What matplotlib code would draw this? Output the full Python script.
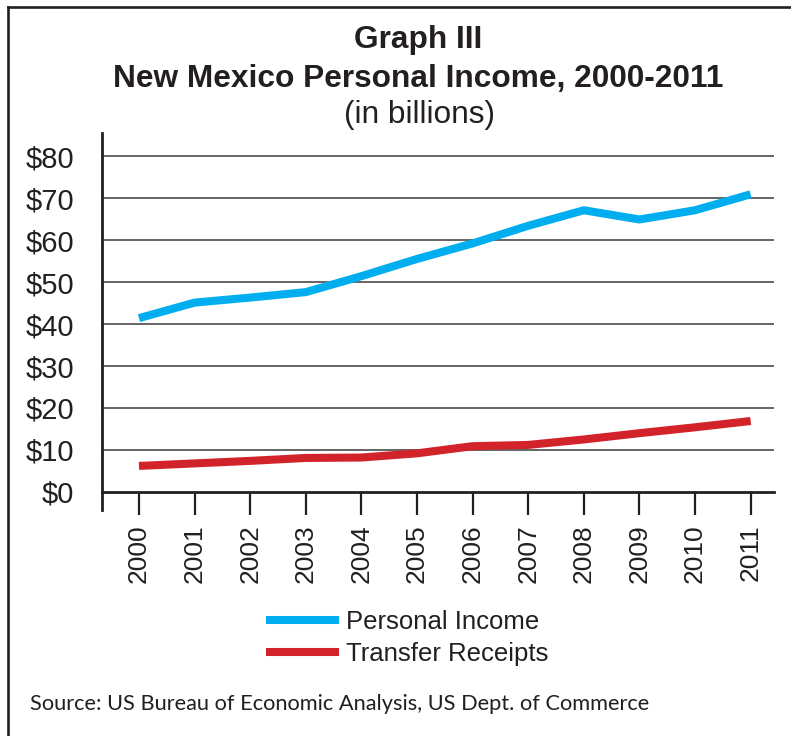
import matplotlib
matplotlib.use("Agg")
import matplotlib.pyplot as plt
from matplotlib.lines import Line2D

# New Mexico personal income vs transfer receipts, billions of dollars
years = ["2000", "2001", "2002", "2003", "2004", "2005",
         "2006", "2007", "2008", "2009", "2010", "2011"]
personal_income = [41.4, 45.1, 46.3, 47.6, 51.4, 55.5, 59.2, 63.4, 67.1, 64.9, 67.1, 70.9]
transfer_receipts = [6.2, 6.8, 7.4, 8.1, 8.2, 9.2, 10.9, 11.2, 12.5, 14.0, 15.4, 16.9]
y_ticks = [0, 10, 20, 30, 40, 50, 60, 70, 80]
y_labels = ["$" + str(v) for v in y_ticks]

INK = "#231f20"
BLUE = "#00aeef"
RED = "#d2232a"

plt.rcParams["font.family"] = ["Liberation Sans", "DejaVu Sans"]

W, H = 791, 736
fig = plt.figure(figsize=(W / 100, H / 100), dpi=100)

def fx(px):
    return px / W

def fy(px):
    return 1 - px / H

# frame around the figure (top and left edges only)
fig.add_artist(Line2D([fx(8), fx(8)], [fy(7), 0], color=INK, lw=1.9))
fig.add_artist(Line2D([fx(8), 1], [fy(7), fy(7)], color=INK, lw=1.9))

# titles
fig.text(fx(418), fy(48), "Graph III", ha="center", va="baseline",
         fontsize=22.8, fontweight="bold", color=INK)
fig.text(fx(418), fy(87), "New Mexico Personal Income, 2000-2011", ha="center",
         va="baseline", fontsize=22.8, fontweight="bold", color=INK)
fig.text(fx(419), fy(123), "(in billions)", ha="center", va="baseline",
         fontsize=22.8, color=INK)

ax = fig.add_axes([fx(102), fy(510), fx(774) - fx(102), (510 - 133) / H])
x = list(range(len(years)))
ax.plot(x, personal_income, color=BLUE, lw=5.8, solid_capstyle="butt",
        label="Personal Income", zorder=3)
ax.plot(x, transfer_receipts, color=RED, lw=5.8, solid_capstyle="butt",
        label="Transfer Receipts", zorder=3)

ax.set_xlim(-0.665, 11.42)
ax.set_ylim(-4.3, 85.5)

for v in y_ticks[1:]:
    ax.axhline(v, color="#3a3a3a", lw=1.1, zorder=1)

for s in ["top", "right"]:
    ax.spines[s].set_visible(False)
ax.spines["bottom"].set_position(("data", 0))
ax.spines["bottom"].set_linewidth(2.0)
ax.spines["left"].set_linewidth(2.0)
ax.spines["bottom"].set_color(INK)
ax.spines["left"].set_color(INK)

ax.set_yticks(y_ticks)
ax.set_yticklabels(y_labels)
ax.tick_params(axis="y", length=0, pad=20, labelsize=21, labelcolor=INK)

ax.set_xticks(x)
ax.set_xticklabels(years, rotation=90)
ax.tick_params(axis="x", direction="out", length=16.5, width=1.6, color=INK,
               pad=7, labelsize=19, labelcolor=INK)

fig.legend(loc="center", bbox_to_anchor=(fx(407), fy(638)), frameon=False,
           fontsize=18.5, handlelength=2.85, handletextpad=0.25,
           labelspacing=0.32, labelcolor=INK)

fig.text(fx(30), fy(704), "Source: US Bureau of Economic Analysis, US Dept. of Commerce",
         ha="left", va="center", fontsize=15.7, color=INK,
         family=["Lato", "DejaVu Sans"])

fig.savefig("out.png", dpi=100)
